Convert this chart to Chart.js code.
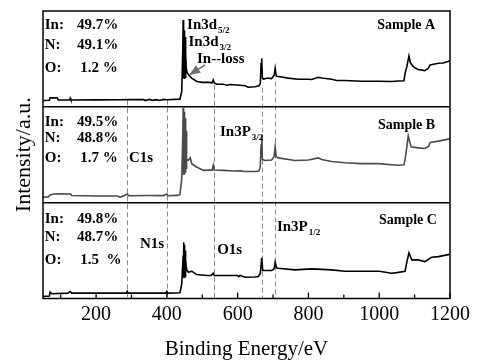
<!DOCTYPE html>
<html><head><meta charset="utf-8">
<script src="https://cdn.jsdelivr.net/npm/chart.js@4/dist/chart.umd.min.js"></script>
<style>html,body{margin:0;padding:0;background:#fff}</style>
</head><body>
<canvas id="c" width="480" height="360"></canvas>
<script>
// ---- data (binding energy in eV, relative intensity in a.u. per panel) ----
const energyA = [50,68,70,90,93,125,127,129,200,268,290,334,340,350,360,370,380,390,400,437,442,445,446,446.5,447,447.5,448,448.5,449,449.5,450,450.5,451,451.5,452,452.5,453,453.5,454,455,457,461,470,485,500,520,528,531,534,541,560,570,580,607,621,630,649,660,664,666,668,670,673,685,696,703,706,709,715,743,771,800,809,828,837,866,880,903,950,997,1035,1054,1070,1073,1078,1084,1088,1096,1110,1129,1138,1144,1167,1180,1195,1200];
const intensityA = [6.6,6.8,9.4,9.4,7.2,7.2,9,7.2,7.3,7.4,7.6,7.5,6.5,7.8,6.8,7.5,6.7,7.8,7.4,8,16,60,90.6,32,88,30,85,30,80,30,76,31,74,31,73,32,65,33,55,40,36,33.6,30,26.4,25.5,25.5,25,28,25,23.5,23.5,22.5,23.3,22.5,22,20.5,21,22,24,45,50.7,30,29,30,29.5,33,40.3,32,31.6,30,28.8,28.8,28.5,30.9,30,28.8,27.5,27.4,26.7,26.7,26.5,27,27.2,35,42,53,46,42,39,37.8,40,43.7,45.5,45.8,47.2,48];

const energyB = [50,65,70,80,100,128,131,200,260,268,275,288,292,350,390,400,403,430,437,442,445,446,446.5,447,447.5,448,448.5,449,449.5,450,450.5,451,451.5,452,452.5,453,453.5,454,454.5,455,456.5,461,466,470,484,503,520,528,531,534,560,590,607,621,649,660,664,666,668,670,677,696,703,706,709,715,762,800,828,837,866,903,950,997,1035,1054,1070,1073,1078,1082,1090,1110,1129,1140,1144,1167,1195,1200];
const intensityB = [5.6,6,8.1,9.1,9.3,9,7.4,7,6.9,5.8,6.7,9.1,7.2,7.4,7.4,9,7.2,7.6,8.5,25,70,99,30,98,29,97,30,95,30,93,31,90,32,88,33,85,34,80,36,75,45,44.2,47,40.7,37.2,33.7,34,34,39,34,33.7,33,33.2,32.6,32.6,33,37,60,70.5,45,44,44.5,48,58.2,48,46.7,44,44.5,46.7,45,43,41.7,40.7,40.7,39.5,39,39.5,45,58,69.5,58.2,57.2,56.5,59,62.8,64.2,66.3,67];

const energyC = [50,68,70,75,120,127,131,200,286,288,291,397,400,403,437,442,446,447,447.5,448,448.5,449,449.5,450,450.5,451,451.5,452,452.5,453,454,455,456,461,470,484,513,525,531,534,600,603,607,621,649,658,664,668,671,696,703,706,710,715,762,809,866,903,1000,1035,1050,1073,1078,1084,1092,1110,1129,1148,1167,1195,1200];
const intensityC = [2.1,2.5,6.6,4.9,5.6,7.3,5.6,5.6,5.6,7.5,5.6,5.6,7.5,5.6,6,15,45,58.7,22,58,22,56,22,55,23,52,23,50,24,47,40,32,30,27.4,28.5,25,24,24,26.5,24,24,22.8,24,22.2,22.5,23,26,42.4,29.2,29.2,31,37.8,32,31.6,29.9,30.9,29.9,28.5,28.5,26.4,27,28.5,38,47.6,40.3,40.3,38.5,43,43.7,45.8,46];

const sampleNames = ['Sample A','Sample B','Sample C'];
const inPercent = ['49.7%','49.5%','49.8%'];
const nPercent  = ['49.1%','48.8%','48.7%'];
const oPercent  = ['1.2 %','1.7 %','1.5  %'];

const peakEnergies = [288, 400, 532, 668, 706];        // C1s, N1s, O1s, In3p3/2, In3p1/2
const peakLineStartA = [7, 7.5, 23, 20, 26.5];          // where the dashed guides leave spectrum A

const xTickValues = [200,400,600,800,1000,1200];
const xMinorTicks = [100,300,500,700,900,1100];

// ---- annotation layout (positions in data units) ----
const panelIds = ['yA','yB','yC'];
const rowY = [[85.4,64.6,40.6],[84.5,67,46],[83.3,64,39.6]];
const peakLabels = [
  {panel:'yA', x:457, y:85.4, text:'In3d', sub:'5/2'},
  {panel:'yA', x:461, y:68,   text:'In3d', sub:'3/2'},
  {panel:'yA', x:485, y:49.7, text:'In--loss'},
  {panel:'yB', x:550, y:74,   text:'In3P', sub:'3/2'},
  {panel:'yB', x:293, y:46,   text:'C1s'},
  {panel:'yC', x:324, y:57,   text:'N1s'},
  {panel:'yC', x:542, y:50.7, text:'O1s'},
  {panel:'yC', x:711, y:75,   text:'In3P', sub:'1/2'}
];
const sampleLabelPos = [{x:1158,y:85.4},{x:1158,y:81},{x:1163,y:81}];
const lossArrow = {panel:'yA', from:[508,43.75], to:[463,33.3]};

const SERIF = '"Liberation Serif", "Times New Roman", serif';

function pts(xs, ys){ return xs.map((x,i)=>({x:x, y:ys[i]})); }

function drawLabel(ctx, text, sub, px, py, size){
  ctx.font = 'bold ' + size + 'px ' + SERIF;
  ctx.textAlign = 'left'; ctx.textBaseline = 'middle';
  ctx.fillText(text, px, py);
  if (sub){
    const w = ctx.measureText(text).width;
    ctx.font = 'bold 9px ' + SERIF;
    ctx.fillText(sub, px + w + 1, py + 6);
  }
}

const overlay = {
  id: 'overlay',
  beforeDatasetsDraw(chart){
    const {ctx, chartArea: ca, scales} = chart;
    ctx.save();
    ctx.strokeStyle = '#8a8a8a'; ctx.lineWidth = 1; ctx.setLineDash([5,3]);
    peakEnergies.forEach((e,i)=>{
      const px = Math.round(scales.x.getPixelForValue(e)) + 0.5;
      const y0 = scales.yA.getPixelForValue(peakLineStartA[i]);
      ctx.beginPath(); ctx.moveTo(px, y0); ctx.lineTo(px, ca.bottom); ctx.stroke();
    });
    ctx.restore();
  },
  afterDatasetsDraw(chart){
    const {ctx, chartArea: ca, scales} = chart;
    const xs = scales.x;
    ctx.save();
    // frame and panel dividers
    ctx.strokeStyle = '#000'; ctx.lineWidth = 1.5; ctx.setLineDash([]);
    ctx.strokeRect(ca.left, ca.top, ca.right - ca.left, ca.bottom - ca.top);
    [scales.yA.bottom, scales.yB.bottom].forEach(y=>{
      ctx.beginPath(); ctx.moveTo(ca.left, y); ctx.lineTo(ca.right, y); ctx.stroke();
    });
    // inward tick marks on the energy axis
    ctx.lineWidth = 1.3;
    xTickValues.forEach(v=>{
      const px = xs.getPixelForValue(v);
      ctx.beginPath(); ctx.moveTo(px, ca.bottom); ctx.lineTo(px, ca.bottom - 6); ctx.stroke();
    });
    xMinorTicks.forEach(v=>{
      const px = xs.getPixelForValue(v);
      ctx.beginPath(); ctx.moveTo(px, ca.bottom); ctx.lineTo(px, ca.bottom - 4); ctx.stroke();
    });
    // composition tables
    ctx.fillStyle = '#000';
    panelIds.forEach((id,i)=>{
      const ys = scales[id];
      const rows = [['In:', inPercent[i]], ['N:', nPercent[i]], ['O:', oPercent[i]]];
      rows.forEach((r,j)=>{
        const py = ys.getPixelForValue(rowY[i][j]);
        drawLabel(ctx, r[0], null, xs.getPixelForValue(55), py, 15);
        const col = j === 2 ? 155 : 146;
        drawLabel(ctx, r[1], null, xs.getPixelForValue(col), py, 15);
      });
      ctx.font = 'bold 14px ' + SERIF;
      ctx.textAlign = 'right'; ctx.textBaseline = 'middle';
      ctx.fillText(sampleNames[i], xs.getPixelForValue(sampleLabelPos[i].x), ys.getPixelForValue(sampleLabelPos[i].y));
    });
    // peak labels
    peakLabels.forEach(l=>{
      drawLabel(ctx, l.text, l.sub, xs.getPixelForValue(l.x), scales[l.panel].getPixelForValue(l.y), 15);
    });
    // In-loss arrow
    const ya = scales[lossArrow.panel];
    const x0 = xs.getPixelForValue(lossArrow.from[0]), y0 = ya.getPixelForValue(lossArrow.from[1]);
    const x1 = xs.getPixelForValue(lossArrow.to[0]),   y1 = ya.getPixelForValue(lossArrow.to[1]);
    const ang = Math.atan2(y1 - y0, x1 - x0);
    ctx.fillStyle = '#6e6e6e'; ctx.strokeStyle = '#6e6e6e'; ctx.lineWidth = 1.5;
    ctx.beginPath(); ctx.moveTo(x0, y0); ctx.lineTo(x1, y1); ctx.stroke();
    const L = 11, W = 4.5;
    ctx.beginPath();
    ctx.moveTo(x1, y1);
    ctx.lineTo(x1 - L*Math.cos(ang) + W*Math.sin(ang), y1 - L*Math.sin(ang) - W*Math.cos(ang));
    ctx.lineTo(x1 - L*Math.cos(ang) - W*Math.sin(ang), y1 - L*Math.sin(ang) + W*Math.cos(ang));
    ctx.closePath(); ctx.fill();
    ctx.restore();
  }
};

const hiddenY = (title) => ({
  type:'linear', position:'left', stack:'panels', stackWeight:1, min:0, max:100,
  ticks:{display:false}, grid:{display:false, drawTicks:false}, border:{display:false},
  title: title ? {display:true, text:title, color:'#000', font:{family:SERIF, size:22, lineHeight:1}, padding:{top:13, bottom:8}} : {display:false}
});

new Chart(document.getElementById('c'), {
  type:'line',
  data:{ datasets:[
    {label:'Sample A', data:pts(energyA,intensityA), yAxisID:'yA', borderColor:'#000', borderWidth:1.6, pointRadius:0, tension:0},
    {label:'Sample B', data:pts(energyB,intensityB), yAxisID:'yB', borderColor:'#4a4a4a', borderWidth:1.6, pointRadius:0, tension:0},
    {label:'Sample C', data:pts(energyC,intensityC), yAxisID:'yC', borderColor:'#000', borderWidth:1.6, pointRadius:0, tension:0}
  ]},
  options:{
    responsive:false, animation:false, parsing:true,
    layout:{padding:{top:11, right:30, left:0, bottom:0}},
    plugins:{legend:{display:false}, tooltip:{enabled:false}},
    scales:{
      x:{type:'linear', min:50, max:1200,
        afterBuildTicks:(s)=>{ s.ticks = xTickValues.map(v=>({value:v})); },
        ticks:{color:'#000', padding:4, maxRotation:0, font:{family:SERIF, size:20}, callback:(v)=>String(v)},
        grid:{display:false, drawTicks:false}, border:{display:false},
        title:{display:true, text:'Binding Energy/eV', color:'#000', font:{family:SERIF, size:21, lineHeight:1}, padding:{top:8, bottom:0.5}}
      },
      // stacked panels: the first listed is placed at the bottom
      yC: hiddenY(null),
      yB: hiddenY('Intensity/a.u.'),
      yA: hiddenY(null)
    }
  },
  plugins:[overlay]
});
</script>
</body></html>
